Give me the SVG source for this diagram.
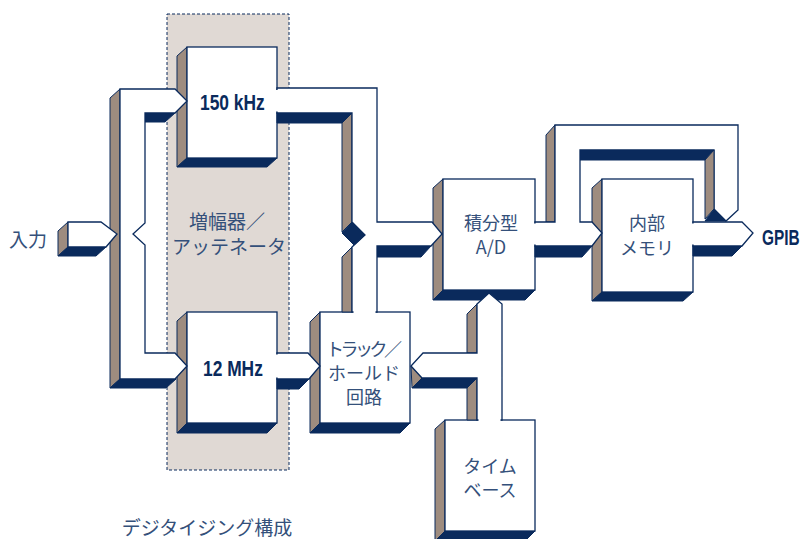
<svg xmlns="http://www.w3.org/2000/svg" width="803" height="539" viewBox="0 0 803 539">
<style>
.f{fill:#fff;stroke:#0a2a5c;stroke-width:1.3;stroke-linejoin:miter}
.s{fill:#9e8c7f;stroke:#0a2a5c;stroke-width:1;stroke-linejoin:miter}
.b{fill:#0a2a5c;stroke:#0a2a5c;stroke-width:1;stroke-linejoin:miter}
.j{stroke:#fff;stroke-width:2.6;fill:none}
.jp{font-family:"Noto Sans CJK JP","Noto Sans CJK SC",sans-serif;font-size:19px;fill:#34507a;text-anchor:middle}
.bx{font-size:18px}
.lb{font-family:"Liberation Sans",Arial,sans-serif;font-weight:bold;font-size:22px;fill:#0a2a5c}
</style>
<rect width="803" height="539" fill="#fff"/>
<g id="amplifier">
<rect x="167" y="14" width="122" height="456" fill="#e0d9d4" stroke="#0a2a5c" stroke-width="1" stroke-dasharray="3 2"/>
<text class="jp" x="227" y="229">増幅器／</text>
<text class="jp" x="229" y="254">アッテネータ</text>
</g>
<g id="input-label"><text class="jp" x="28" y="247" font-size="20">入力</text></g>
<g id="osc150k">
<polygon class="s" points="187,47 177,56 177,167 187,158"/>
<polygon class="b" points="187,158 277,158 267,167 177,167"/>
<rect class="f" x="187" y="47" width="90" height="111"/>
<text class="lb" transform="translate(200,110) scale(0.79,1)">150 kHz</text>
</g>
<g id="osc12m">
<polygon class="s" points="187,312 177,321 177,433 187,423"/>
<polygon class="b" points="187,423 277,423 267,433 177,433"/>
<rect class="f" x="187" y="312" width="90" height="111"/>
<text class="lb" transform="translate(203,376) scale(0.79,1)">12 MHz</text>
</g>
<g id="track-hold">
<polygon class="s" points="320,312 310,322 310,433 320,423"/>
<polygon class="b" points="320,423 410,423 400,433 310,433"/>
<rect class="f" x="320" y="312" width="90" height="111"/>
<text class="jp bx" x="364" y="356" textLength="76" lengthAdjust="spacing">トラック／</text>
<text class="jp bx" x="364" y="380">ホールド</text>
<text class="jp bx" x="364" y="404">回路</text>
</g>
<g id="ad">
<polygon class="s" points="443,179 433,188 433,300 443,290"/>
<polygon class="b" points="443,290 535,290 525,300 433,300"/>
<rect class="f" x="443" y="179" width="92" height="111"/>
<text class="jp bx" x="491" y="230">積分型</text>
<text class="jp bx" x="491" y="254">A/D</text>
</g>
<g id="timebase">
<polygon class="s" points="445,420 435,429 435,541 445,531"/>
<polygon class="b" points="445,531 535,531 525,541 435,541"/>
<rect class="f" x="445" y="420" width="90" height="111"/>
<text class="jp bx" x="490" y="473">タイム</text>
<text class="jp bx" x="490" y="497">ベース</text>
</g>
<g id="memory">
<polygon class="s" points="602,179 592,188 592,301 602,292"/>
<polygon class="b" points="602,292 693,292 683,301 592,301"/>
<rect class="f" x="602" y="179" width="91" height="113"/>
<text class="jp bx" x="647" y="230">内部</text>
<text class="jp bx" x="647" y="255">メモリ</text>
</g>
<g id="gpib-label"><text class="lb" transform="translate(762,245) scale(0.7,1)">GPIB</text></g>
<g id="caption"><text class="jp" x="207" y="535">デジタイジング構成</text></g>
<g id="connectors">
<polygon class="s" points="120,89 110,98 110,388 120,379"/>
<polygon class="b" points="120,379 176,379 166,388 110,388"/>
<polygon class="b" points="145,113 175,113 165,122 145,122"/>
<polygon class="f" points="120,89 175,89 187,101 175,113 145,113 145,223 133,234 145,245 145,353 175,353 187,366 175,379 120,379"/>
<polygon class="s" points="68,222 58,231 58,256 68,247"/>
<polygon class="b" points="68,247 106,247 96,256 58,256"/>
<polygon class="f" points="68,222 101,222 117,234 106,247 68,247"/>
<polygon class="b" points="277,113 352,113 342,123 277,123"/>
<polygon class="s" points="352,113 342,123 342,232 352,222"/>
<polygon class="s" points="354,245 342,257 342,312 352,312 352,247"/>
<polygon class="b" points="377,246 431,246 421,257 377,257"/>
<polygon class="f" points="277,88 377,88 377,222 432,222 442,234 431,246 377,246 377,312 352,312 352,247 365,235 352,222 352,113 277,113"/>
<polygon class="b" points="342,233 352,222 365,235 354,245"/>
<polygon class="b" points="277,379 309,379 299,389 277,389"/>
<polygon class="f" points="277,353 308,353 320,366 309,379 277,379"/>
<polygon class="s" points="477,304 467,314 467,353 477,353"/>
<polygon class="s" points="411,366 422,378 412,388"/>
<polygon class="b" points="422,378 477,378 467,388 412,388"/>
<polygon class="s" points="477,378 467,388 467,420 477,420"/>
<polygon class="f" points="477,304 489,293 502,304 502,420 477,420 477,378 422,378 411,366 423,353 477,353"/>
<polygon class="b" points="693,246 742,246 732,256 693,256"/>
<polygon class="f" points="693,222 742,222 753,233 742,246 693,246"/>
<polygon class="s" points="555,125 546,135 546,222 555,222"/>
<polygon class="b" points="535,246 592,246 582,257 535,257"/>
<polygon class="b" points="580,150 714,150 705,160 580,160"/>
<polygon class="f" points="535,222 555,222 555,125 738,125 738,210 726,221 714,209 714,150 580,150 580,222 592,222 602,233 592,246 535,246"/>
<polygon class="s" points="714,150 705,160 705,219 714,209"/>
<polygon class="b" points="705,221 714,209 726,221"/>
<line class="j" x1="277" y1="90" x2="277" y2="111.5"/>
<line class="j" x1="277" y1="354.5" x2="277" y2="377.5"/>
<line class="j" x1="353.5" y1="312" x2="375.5" y2="312"/>
<line class="j" x1="478.5" y1="420" x2="500.5" y2="420"/>
<line class="j" x1="535" y1="223.5" x2="535" y2="244.5"/>
<line class="j" x1="693" y1="223.5" x2="693" y2="244.5"/>
</g>
</svg>
